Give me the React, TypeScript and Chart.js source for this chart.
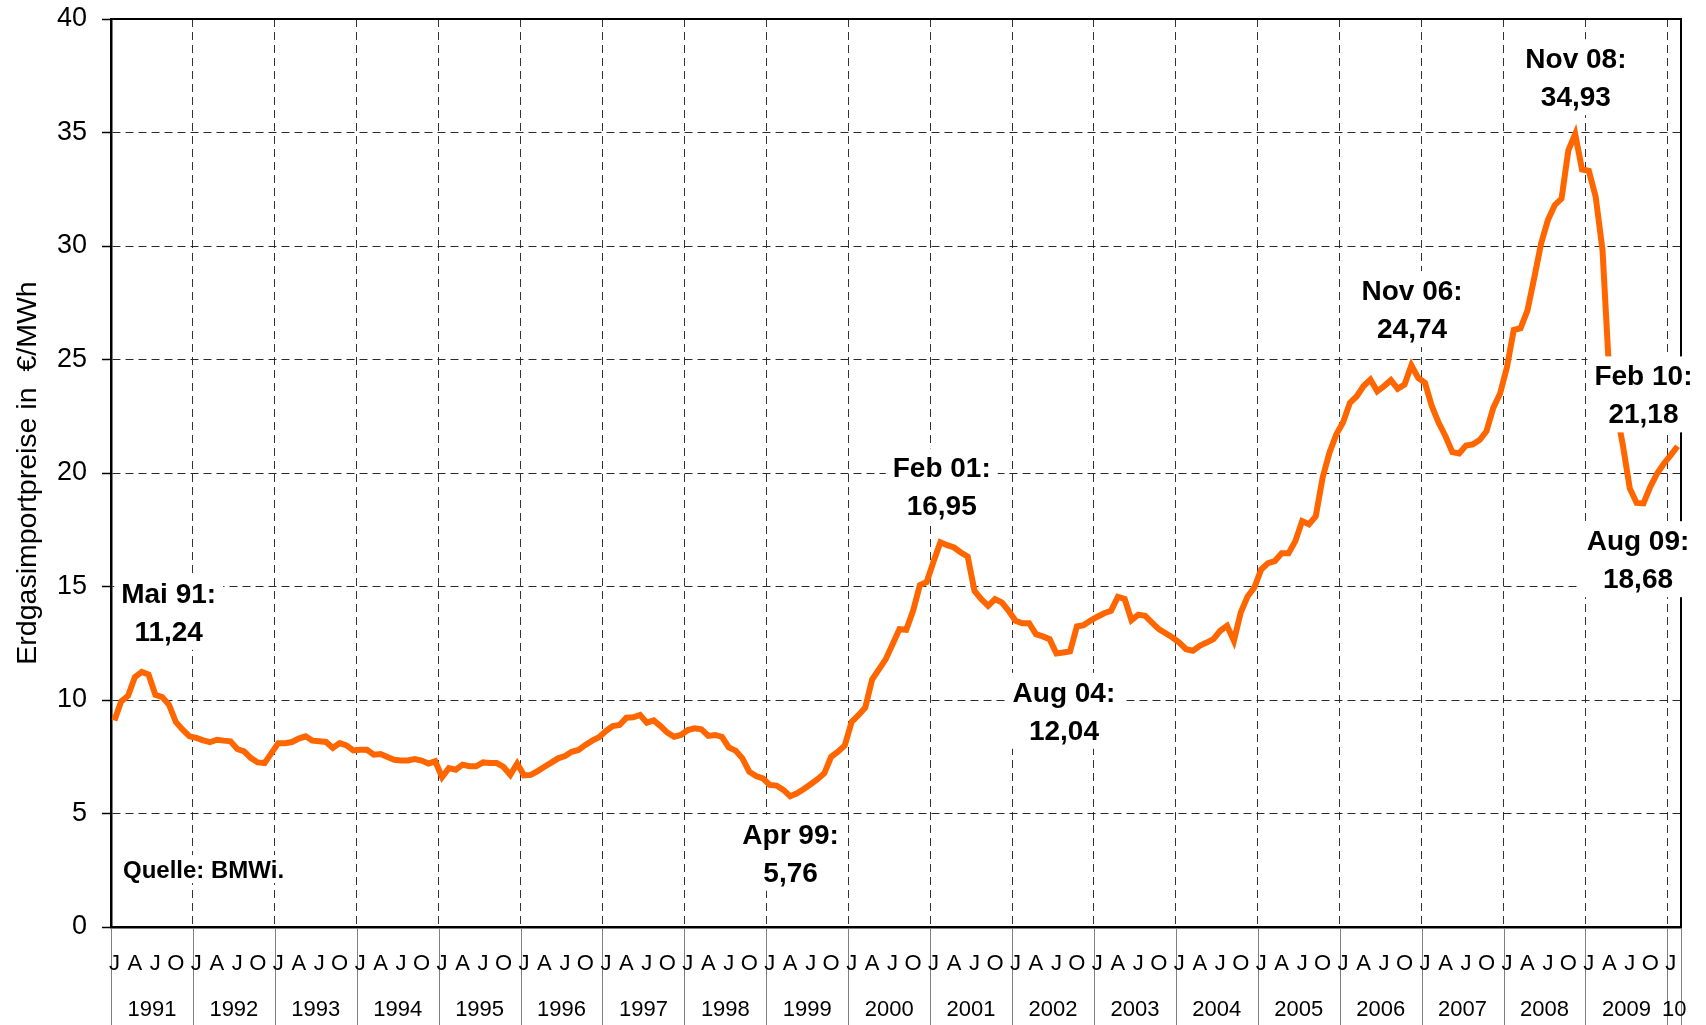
import React, { useEffect, useRef } from 'react';
import { Chart, registerables } from 'chart.js';

Chart.register(...registerables);

// ---------- data ----------
const yearLabels = ['1991', '1992', '1993', '1994', '1995', '1996', '1997', '1998', '1999', '2000',
  '2001', '2002', '2003', '2004', '2005', '2006', '2007', '2008', '2009', '10'];
const monthLetters = ['J', '', '', 'A', '', '', 'J', '', '', 'O', '', ''];

const p1991 = [9.1, 9.94, 10.19, 11.01, 11.24, 11.12, 10.23, 10.13, 9.79, 9.03, 8.69, 8.4];
const p1992 = [8.33, 8.22, 8.14, 8.25, 8.21, 8.18, 7.84, 7.74, 7.44, 7.25, 7.22, 7.66];
const p1993 = [8.1, 8.1, 8.15, 8.3, 8.4, 8.21, 8.18, 8.15, 7.89, 8.1, 8.0, 7.78];
const p1994 = [7.81, 7.81, 7.59, 7.62, 7.49, 7.37, 7.34, 7.34, 7.4, 7.33, 7.2, 7.3];
const p1995 = [6.6, 7.0, 6.93, 7.15, 7.08, 7.08, 7.25, 7.22, 7.22, 7.05, 6.7, 7.2];
const p1996 = [6.68, 6.7, 6.87, 7.06, 7.24, 7.43, 7.53, 7.72, 7.8, 8.02, 8.21, 8.36];
const p1997 = [8.63, 8.85, 8.9, 9.22, 9.24, 9.34, 9.0, 9.1, 8.85, 8.56, 8.38, 8.46];
const p1998 = [8.68, 8.75, 8.71, 8.42, 8.46, 8.38, 7.91, 7.77, 7.43, 6.84, 6.65, 6.55];
const p1999 = [6.26, 6.23, 6.04, 5.76, 5.89, 6.08, 6.29, 6.51, 6.77, 7.5, 7.72, 8.0];
const p2000 = [9.04, 9.33, 9.67, 10.9, 11.35, 11.8, 12.46, 13.12, 13.09, 13.93, 15.06, 15.2];
const p2001 = [16.1, 16.95, 16.82, 16.72, 16.5, 16.32, 14.81, 14.44, 14.15, 14.44, 14.3, 13.93];
const p2002 = [13.49, 13.38, 13.38, 12.9, 12.8, 12.68, 12.05, 12.09, 12.14, 13.24, 13.3, 13.5];
const p2003 = [13.67, 13.82, 13.93, 14.54, 14.45, 13.52, 13.76, 13.71, 13.41, 13.12, 12.94, 12.75];
const p2004 = [12.53, 12.24, 12.17, 12.39, 12.53, 12.68, 13.05, 13.27, 12.61, 13.85, 14.56, 14.95];
const p2005 = [15.75, 16.03, 16.12, 16.46, 16.46, 17.0, 17.88, 17.74, 18.1, 19.8, 20.89, 21.7];
const p2006 = [22.24, 23.09, 23.38, 23.83, 24.12, 23.6, 23.83, 24.09, 23.71, 23.9, 24.74, 24.19];
const p2007 = [23.97, 22.94, 22.21, 21.62, 20.92, 20.86, 21.21, 21.26, 21.45, 21.84, 22.87, 23.5];
const p2008 = [24.66, 26.3, 26.38, 27.15, 28.6, 30.1, 31.14, 31.8, 32.09, 34.22, 34.93, 33.37];
const p2009 = [33.31, 32.17, 29.82, 24.3, 22.8, 21.2, 19.32, 18.68, 18.66, 19.39, 19.98, 20.42];
const p2010 = [20.79, 21.18];

const yTicks = [0, 5, 10, 15, 20, 25, 30, 35, 40];

const calloutTexts = [
  ['Mai 91:', '11,24'],
  ['Apr 99:', '5,76'],
  ['Feb 01:', '16,95'],
  ['Aug 04:', '12,04'],
  ['Nov 06:', '24,74'],
  ['Nov 08:', '34,93'],
  ['Feb 10:', '21,18'],
  ['Aug 09:', '18,68'],
];
const sourceText = 'Quelle: BMWi.';
const yTitle = 'Erdgasimportpreise in  \u20AC/MWh';

// ---------- layout (in axis units: months from Jan 1991, euro/MWh) ----------
const calloutAnchors = [
  [8.45, 14.72],
  [99.56, 4.11],
  [121.7, 20.25],
  [139.6, 10.36],
  [190.6, 28.06],
  [214.6, 38.27],
  [224.5, 24.3],
  [223.7, 17.04],
];
const sourceAnchor = [1.76, 2.55];

const FONT = '"Liberation Sans", Arial, Helvetica, sans-serif';

const series = [
  ...p1991, ...p1992, ...p1993, ...p1994, ...p1995, ...p1996, ...p1997, ...p1998, ...p1999, ...p2000,
  ...p2001, ...p2002, ...p2003, ...p2004, ...p2005, ...p2006, ...p2007, ...p2008, ...p2009, ...p2010,
];
const nMonths = 230; // axis spans Jan 1991 .. Feb 2010 (+ end)

const decorPlugin = {
  id: 'decor',
  beforeDatasetsDraw(chart: any) {
    const { ctx, chartArea, scales } = chart;
    const xs = scales.x;
    const ys = scales.y;
    ctx.save();
    // frame: top and right
    ctx.strokeStyle = '#000';
    ctx.lineWidth = 2;
    ctx.beginPath();
    ctx.moveTo(chartArea.left, chartArea.top);
    ctx.lineTo(chartArea.right, chartArea.top);
    ctx.lineTo(chartArea.right, chartArea.bottom);
    ctx.stroke();

    // separators below x axis
    ctx.strokeStyle = '#808080';
    ctx.lineWidth = 1;
    const bottom = chart.height;
    const bounds: number[] = [];
    for (let k = 0; k < yearLabels.length; k++) bounds.push(k * 12);
    bounds.push(nMonths);
    bounds.forEach((b) => {
      const px = Math.round(xs.getPixelForValue(b)) + 0.5;
      ctx.beginPath();
      ctx.moveTo(px, chartArea.bottom + 1);
      ctx.lineTo(px, bottom);
      ctx.stroke();
    });

    // month letters and years
    ctx.fillStyle = '#000';
    ctx.font = `22px ${FONT}`;
    ctx.textAlign = 'center';
    ctx.textBaseline = 'alphabetic';
    const letterY = chartArea.bottom + 35 + 7.9;
    const yearY = chartArea.bottom + 81 + 7.9;
    for (let m = 0; m < series.length; m++) {
      const L = monthLetters[m % 12];
      if (L) ctx.fillText(L, xs.getPixelForValue(m + 0.5), letterY);
    }
    yearLabels.forEach((lab, k) => {
      const start = k * 12;
      const end = Math.min(start + 12, nMonths);
      ctx.fillText(lab, xs.getPixelForValue((start + end) / 2), yearY);
    });

    // y axis title
    ctx.save();
    const tSize = 28.5;
    ctx.font = `${tSize}px ${FONT}`;
    ctx.translate(26 + 0.358 * tSize, (chartArea.top + chartArea.bottom) / 2);
    ctx.rotate(-Math.PI / 2);
    ctx.textAlign = 'center';
    ctx.fillText(yTitle, 0, 0);
    ctx.restore();

    // source note
    ctx.font = `bold 24px ${FONT}`;
    ctx.textAlign = 'left';
    const sx = xs.getPixelForValue(sourceAnchor[0]);
    const sy = ys.getPixelForValue(sourceAnchor[1]);
    const sw = ctx.measureText(sourceText).width;
    ctx.fillStyle = '#fff';
    ctx.fillRect(sx - 3, sy - 14, sw + 6, 28);
    ctx.fillStyle = '#000';
    ctx.fillText(sourceText, sx, sy + 0.358 * 24);
    ctx.restore();
  },
  afterDatasetsDraw(chart: any) {
    const { ctx, scales } = chart;
    const xs = scales.x;
    const ys = scales.y;
    ctx.save();
    ctx.font = `bold 28px ${FONT}`;
    ctx.textAlign = 'center';
    ctx.textBaseline = 'alphabetic';
    calloutTexts.forEach((lines, i) => {
      const cx = xs.getPixelForValue(calloutAnchors[i][0]);
      const cy = ys.getPixelForValue(calloutAnchors[i][1]);
      const w = Math.max(...lines.map((t) => ctx.measureText(t).width));
      ctx.fillStyle = '#fff';
      ctx.fillRect(cx - w / 2 - 7, cy - 19, w + 14, 38 + 38);
      ctx.fillStyle = '#000';
      lines.forEach((t, j) => ctx.fillText(t, cx, cy + j * 38 + 0.358 * 28));
    });
    ctx.restore();
  },
};

export default function App() {
  const ref = useRef<HTMLCanvasElement>(null);
  useEffect(() => {
    document.body.style.margin = '0';
    const canvas = ref.current;
    if (!canvas) return;
    const chart = new Chart(canvas, {
      type: 'line',
      data: {
        datasets: [
          {
            data: series.map((v, i) => ({ x: i + 0.5, y: v })),
            borderColor: '#FF6600',
            borderWidth: 6,
            pointRadius: 0,
            tension: 0,
            fill: false,
            borderJoinStyle: 'miter',
          },
        ],
      },
      options: {
        responsive: false,
        animation: false,
        devicePixelRatio: 1,
        layout: { padding: { top: 19, right: 25, left: 0, bottom: 0 } },
        plugins: { legend: { display: false }, tooltip: { enabled: false } },
        scales: {
          x: {
            type: 'linear',
            min: 0,
            max: nMonths,
            position: 'bottom',
            afterBuildTicks: (s: any) => {
              const t: any[] = [];
              for (let k = 1; k < yearLabels.length; k++) t.push({ value: k * 12 });
              s.ticks = t;
            },
            afterFit: (s: any) => {
              s.height = 98;
              s.paddingLeft = 0;
              s.paddingRight = 0;
            },
            ticks: { display: false },
            grid: { color: '#333', lineWidth: 1, drawTicks: false },
            border: { display: true, color: '#000', width: 2.5, dash: [8, 5] },
          },
          y: {
            min: 0,
            max: 40,
            afterBuildTicks: (s: any) => {
              s.ticks = yTicks.map((v) => ({ value: v }));
            },
            afterFit: (s: any) => {
              s.width = 111;
              s.paddingTop = 0;
              s.paddingBottom = 0;
            },
            ticks: { font: { family: FONT, size: 27 }, color: '#000', padding: 15 },
            grid: { color: '#2a2a2a', lineWidth: 1, tickLength: 9, tickColor: '#000', tickWidth: 1.5, tickBorderDash: [] },
            border: { display: true, color: '#000', width: 2.5, dash: [8, 5] },
          },
        },
      },
      plugins: [decorPlugin],
    } as any);
    return () => chart.destroy();
  }, []);
  return (
    <div style={{ position: 'absolute', left: 0, top: 0, width: 1706, height: 1025 }}>
      <canvas ref={ref} width={1706} height={1025} style={{ display: 'block', width: 1706, height: 1025 }} />
    </div>
  );
}
